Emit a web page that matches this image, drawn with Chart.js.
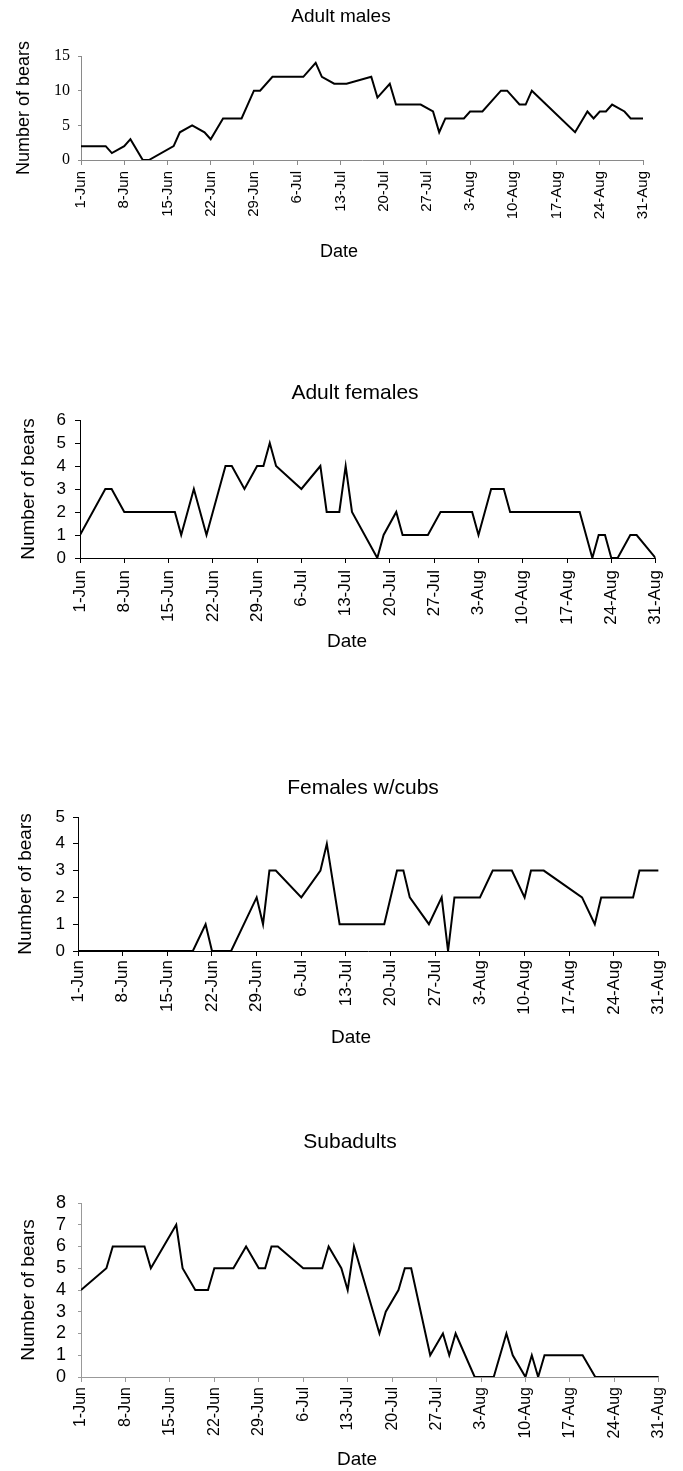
<!DOCTYPE html>
<html>
<head>
<meta charset="utf-8">
<script src="https://cdn.jsdelivr.net/npm/chart.js@4.4.1/dist/chart.umd.min.js"></script>
<style>
html, body { margin: 0; padding: 0; background: #fff; }
#page { position: relative; width: 683px; height: 1471px; overflow: hidden; }
canvas { position: absolute; left: 0; }
</style>
</head>
<body>
<div id="page">
  <canvas id="males" width="683" height="272" style="top:0px"></canvas>
  <canvas id="females" width="683" height="320" style="top:350px"></canvas>
  <canvas id="cubs" width="683" height="300" style="top:760px"></canvas>
  <canvas id="subadults" width="683" height="361" style="top:1110px"></canvas>
</div>
<script>
const tickLabels = ['1-Jun','8-Jun','15-Jun','22-Jun','29-Jun','6-Jul','13-Jul','20-Jul','27-Jul','3-Aug','10-Aug','17-Aug','24-Aug','31-Aug'];
const tickDays = [0,7,14,21,28,35,42,49,56,63,70,77,84,91];

// days counted from 1 June
const maleDays   = [0,4,5,7,8,10,11,15,16,18,20,21,23,26,28,29,31,36,38,39,41,43,47,48,50,51,55,57,58,59,62,63,65,68,69,71,72,73,80,82,83,84,85,86,88,89,91];
const maleCounts = [2,2,1,2,3,0,0,2,4,5,4,3,6,6,10,10,12,12,14,12,11,11,12,9,11,8,8,7,4,6,6,7,7,10,10,8,8,10,4,7,6,7,7,8,7,6,6];

const femaleDays   = [0,4,5,7,15,16,18,20,23,24,26,28,29,30,31,35,38,39,41,42,43,47,48,50,51,55,57,62,63,65,67,68,79,81,82,83,84,85,87,88,91];
const femaleCounts = [1,3,3,2,2,1,3,1,4,4,3,4,4,5,4,3,4,2,2,4,2,0,1,2,1,1,2,2,1,3,3,2,2,0,1,1,0,0,1,1,0];

const cubDays   = [0,18,20,21,24,28,29,30,31,35,38,39,41,48,50,51,52,55,57,58,59,63,65,68,70,71,73,79,81,82,87,88,91];
const cubCounts = [0,0,1,0,0,2,1,3,3,2,3,4,1,1,3,3,2,1,2,0,2,2,3,3,2,3,3,2,1,2,2,3,3];

const subDays   = [0,4,5,10,11,15,16,18,20,21,24,26,28,29,30,31,35,38,39,41,42,43,47,48,50,51,52,55,57,58,59,62,65,67,68,70,71,72,73,79,81,91];
const subCounts = [4,5,6,6,5,7,5,4,4,5,5,6,5,5,6,6,5,5,6,5,4,6,2,3,4,5,5,1,2,1,2,0,0,2,1,0,1,0,1,1,0,0];

const sans = "'Liberation Sans', Arial, sans-serif";
const serif = "'Liberation Serif', 'Times New Roman', serif";

// panel heading and "Date" caption, placed where the scanned figure has them
const captions = {
    id: 'captions',
    afterDraw(chart, args, opts) {
        const ctx = chart.ctx;
        ctx.save();
        ctx.fillStyle = '#000';
        ctx.textAlign = 'center';
        ctx.textBaseline = 'middle';
        opts.items.forEach(function (t) {
            ctx.font = t.size + 'px ' + sans;
            ctx.fillText(t.text, t.x, t.y);
        });
        ctx.restore();
    }
};

function panel(id, days, counts, o) {
    new Chart(document.getElementById(id), {
        type: 'line',
        data: {
            datasets: [{
                data: days.map((d, i) => ({ x: d, y: counts[i] })),
                borderColor: '#000',
                borderWidth: 2,
                pointRadius: 0,
                tension: 0,
                fill: false
            }]
        },
        plugins: [captions],
        options: {
            responsive: false,
            animation: false,
            layout: { padding: { top: o.top, left: 0, right: o.padRight, bottom: 0 } },
            plugins: {
                legend: { display: false },
                tooltip: { enabled: false },
                captions: {
                    items: [
                        { text: o.title, size: o.titleSize, x: o.titleX, y: o.titleY },
                        { text: 'Date', size: o.dateSize, x: o.dateX, y: o.dateY }
                    ]
                }
            },
            scales: {
                x: {
                    type: 'linear',
                    min: 0,
                    max: 91,
                    afterBuildTicks: function (axis) {
                        axis.ticks = tickDays.map(v => ({ value: v }));
                    },
                    afterFit: function (scale) { scale.height = o.xHeight; },
                    ticks: {
                        autoSkip: false,
                        maxRotation: 90,
                        minRotation: 90,
                        padding: o.xPad,
                        color: '#000',
                        font: { family: sans, size: o.xTickSize },
                        callback: function (value, index) { return tickLabels[index]; }
                    },
                    grid: { drawOnChartArea: false, tickLength: 5, color: o.axisColor },
                    border: { color: o.axisColor, width: 1, dash: o.dash }
                },
                y: {
                    min: 0,
                    max: o.yMax,
                    afterFit: function (scale) { scale.width = o.left; },
                    ticks: {
                        autoSkip: false,
                        stepSize: o.yStep,
                        padding: o.yPad,
                        color: '#000',
                        font: { family: o.yFont, size: o.yTickSize }
                    },
                    grid: { drawOnChartArea: false, tickLength: o.yTick, color: o.axisColor },
                    border: { color: o.axisColor, width: 1, dash: o.dash },
                    title: {
                        display: true,
                        text: 'Number of bears',
                        color: '#000',
                        font: { family: sans, size: o.labelSize, lineHeight: 1.2 },
                        padding: { top: o.labelPad, bottom: 0 }
                    }
                }
            }
        }
    });
}

panel('males', maleDays, maleCounts, {
    title: 'Adult males', titleSize: 19, titleX: 341, titleY: 17,
    dateSize: 18, dateX: 339, dateY: 252,
    top: 56, padRight: 40, left: 81, xHeight: 112, xPad: 6, xTickSize: 15,
    yMax: 15, yStep: 5, yFont: serif, yTickSize: 16, yTick: 3, yPad: 8,
    labelSize: 18, labelPad: 13,
    axisColor: '#8a8a8a', dash: [2, 2]
});

panel('females', femaleDays, femaleCounts, {
    title: 'Adult females', titleSize: 21, titleX: 355, titleY: 43,
    dateSize: 19, dateX: 347, dateY: 292,
    top: 70, padRight: 19, left: 80, xHeight: 112, xPad: 7, xTickSize: 17,
    yMax: 6, yStep: 1, yFont: sans, yTickSize: 17, yTick: 5, yPad: 9,
    labelSize: 19, labelPad: 17,
    axisColor: '#000', dash: []
});

panel('cubs', cubDays, cubCounts, {
    title: 'Females w/cubs', titleSize: 21, titleX: 363, titleY: 28,
    dateSize: 19, dateX: 351, dateY: 278,
    top: 57, padRight: 19, left: 78, xHeight: 109, xPad: 4, xTickSize: 17,
    yMax: 5, yStep: 1, yFont: sans, yTickSize: 17, yTick: 5, yPad: 8,
    labelSize: 19, labelPad: 14,
    axisColor: '#000', dash: []
});

panel('subadults', subDays, subCounts, {
    title: 'Subadults', titleSize: 21, titleX: 350, titleY: 32,
    dateSize: 19, dateX: 357, dateY: 350,
    top: 93, padRight: 17, left: 81, xHeight: 94, xPad: 5, xTickSize: 16,
    yMax: 8, yStep: 1, yFont: sans, yTickSize: 18, yTick: 3, yPad: 12,
    labelSize: 19, labelPad: 17,
    axisColor: '#999', dash: [2, 2]
});
</script>
</body>
</html>
